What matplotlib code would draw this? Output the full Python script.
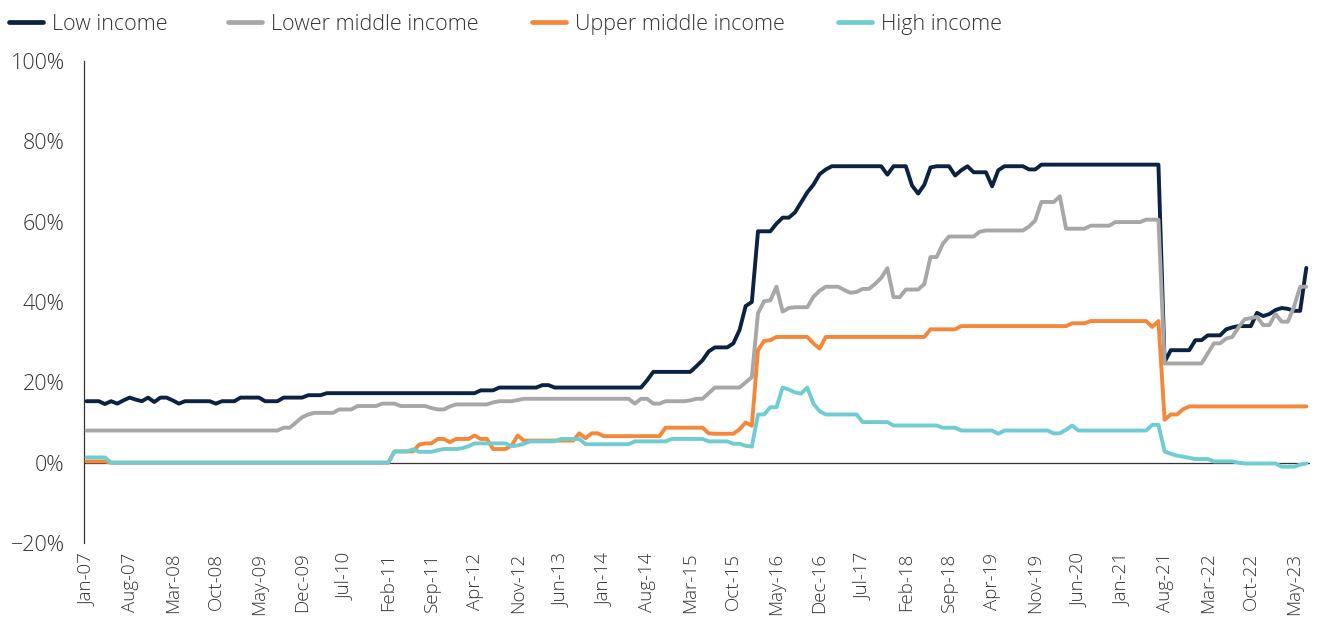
import matplotlib
matplotlib.use("Agg")
import matplotlib.pyplot as plt
from matplotlib.lines import Line2D

# ---------------- data (monthly, Jan-07 .. Jul-23) ----------------
series_names = ["Low income", "Lower middle income", "Upper middle income", "High income"]
series_colors = ["#0b2341", "#a7a7a7", "#f5873a", "#6fcdd2"]

low_income = [
    15.3, 15.3, 15.3, 14.6, 15.3, 14.7, 15.5, 16.2, 15.7, 15.3,
    16.2, 15.1, 16.2, 16.2, 15.5, 14.7, 15.3, 15.3, 15.3, 15.3,
    15.3, 14.7, 15.3, 15.3, 15.3, 16.2, 16.2, 16.2, 16.2, 15.3,
    15.3, 15.3, 16.2, 16.2, 16.2, 16.2, 16.8, 16.8, 16.8, 17.3,
    17.3, 17.3, 17.3, 17.3, 17.3, 17.3, 17.3, 17.3, 17.3, 17.3,
    17.3, 17.3, 17.3, 17.3, 17.3, 17.3, 17.3, 17.3, 17.3, 17.3,
    17.3, 17.3, 17.3, 17.3, 18.0, 18.0, 18.0, 18.7, 18.7, 18.7,
    18.7, 18.7, 18.7, 18.7, 19.3, 19.3, 18.7, 18.7, 18.7, 18.7,
    18.7, 18.7, 18.7, 18.7, 18.7, 18.7, 18.7, 18.7, 18.7, 18.7,
    18.7, 20.5, 22.6, 22.6, 22.6, 22.6, 22.6, 22.6, 22.6, 24.0,
    25.5, 27.7, 28.7, 28.7, 28.7, 29.7, 33.0, 39.0, 40.0, 57.6,
    57.6, 57.6, 59.5, 61.0, 61.0, 62.3, 64.8, 67.3, 69.2, 71.8,
    73.0, 73.8, 73.8, 73.8, 73.8, 73.8, 73.8, 73.8, 73.8, 73.8,
    71.7, 73.8, 73.8, 73.8, 69.0, 67.0, 69.2, 73.5, 73.8, 73.8,
    73.8, 71.5, 72.8, 73.8, 72.3, 72.3, 72.3, 68.8, 72.8, 73.8,
    73.8, 73.8, 73.8, 73.0, 73.0, 74.2, 74.2, 74.2, 74.2, 74.2,
    74.2, 74.2, 74.2, 74.2, 74.2, 74.2, 74.2, 74.2, 74.2, 74.2,
    74.2, 74.2, 74.2, 74.2, 74.2, 25.1, 28.0, 28.0, 28.0, 28.0,
    30.5, 30.5, 31.7, 31.7, 31.7, 33.2, 33.7, 34.0, 34.0, 34.0,
    37.3, 36.5, 37.0, 38.0, 38.5, 38.3, 37.8, 37.8, 48.5,
]

lower_middle_income = [
    8.0, 8.0, 8.0, 8.0, 8.0, 8.0, 8.0, 8.0, 8.0, 8.0,
    8.0, 8.0, 8.0, 8.0, 8.0, 8.0, 8.0, 8.0, 8.0, 8.0,
    8.0, 8.0, 8.0, 8.0, 8.0, 8.0, 8.0, 8.0, 8.0, 8.0,
    8.0, 8.0, 8.7, 8.7, 10.0, 11.3, 12.0, 12.4, 12.4, 12.4,
    12.4, 13.25, 13.25, 13.25, 14.1, 14.1, 14.1, 14.1, 14.7, 14.7,
    14.7, 14.1, 14.1, 14.1, 14.1, 14.1, 13.6, 13.25, 13.25, 14.0,
    14.5, 14.5, 14.5, 14.5, 14.5, 14.5, 15.0, 15.3, 15.3, 15.3,
    15.6, 15.9, 15.9, 15.9, 15.9, 15.9, 15.9, 15.9, 15.9, 15.9,
    15.9, 15.9, 15.9, 15.9, 15.9, 15.9, 15.9, 15.9, 15.9, 14.7,
    15.9, 15.9, 14.7, 14.7, 15.3, 15.3, 15.3, 15.3, 15.5, 15.9,
    15.9, 17.3, 18.7, 18.7, 18.7, 18.7, 18.7, 20.0, 21.3, 37.2,
    40.2, 40.4, 43.8, 37.6, 38.5, 38.7, 38.7, 38.7, 41.3, 42.8,
    43.8, 43.8, 43.8, 43.0, 42.3, 42.5, 43.25, 43.25, 44.5, 46.0,
    48.4, 41.2, 41.2, 43.1, 43.1, 43.1, 44.5, 51.2, 51.2, 54.5,
    56.3, 56.3, 56.3, 56.3, 56.3, 57.5, 57.8, 57.8, 57.8, 57.8,
    57.8, 57.8, 57.8, 58.8, 60.3, 64.9, 64.9, 64.9, 66.3, 58.25,
    58.25, 58.25, 58.25, 59.0, 59.0, 59.0, 59.0, 59.9, 59.9, 59.9,
    59.9, 59.9, 60.5, 60.5, 60.5, 24.7, 24.7, 24.7, 24.7, 24.7,
    24.7, 24.7, 27.2, 29.7, 29.7, 30.9, 31.3, 33.7, 35.7, 36.0,
    36.3, 34.25, 34.25, 37.0, 35.1, 35.1, 38.8, 43.8, 43.8,
]

upper_middle_income = [
    0.3, 0.3, 0.3, 0.3, 0.0, 0.0, 0.0, 0.0, 0.0, 0.0,
    0.0, 0.0, 0.0, 0.0, 0.0, 0.0, 0.0, 0.0, 0.0, 0.0,
    0.0, 0.0, 0.0, 0.0, 0.0, 0.0, 0.0, 0.0, 0.0, 0.0,
    0.0, 0.0, 0.0, 0.0, 0.0, 0.0, 0.0, 0.0, 0.0, 0.0,
    0.0, 0.0, 0.0, 0.0, 0.0, 0.0, 0.0, 0.0, 0.0, 0.0,
    2.8, 2.8, 2.8, 2.8, 4.5, 4.8, 4.8, 5.9, 5.9, 5.1,
    5.9, 5.9, 5.9, 6.75, 5.9, 5.9, 3.4, 3.4, 3.4, 4.25,
    6.75, 5.5, 5.5, 5.5, 5.5, 5.5, 5.5, 5.5, 5.5, 5.5,
    7.3, 6.1, 7.3, 7.3, 6.6, 6.6, 6.6, 6.6, 6.6, 6.6,
    6.6, 6.6, 6.6, 6.6, 8.7, 8.7, 8.7, 8.7, 8.7, 8.7,
    8.7, 7.3, 7.2, 7.2, 7.2, 7.2, 8.3, 10.0, 9.2, 28.0,
    30.3, 30.5, 31.3, 31.3, 31.3, 31.3, 31.3, 31.3, 29.7, 28.4,
    31.3, 31.3, 31.3, 31.3, 31.3, 31.3, 31.3, 31.3, 31.3, 31.3,
    31.3, 31.3, 31.3, 31.3, 31.3, 31.3, 31.3, 33.2, 33.2, 33.2,
    33.2, 33.2, 34.0, 34.0, 34.0, 34.0, 34.0, 34.0, 34.0, 34.0,
    34.0, 34.0, 34.0, 34.0, 34.0, 34.0, 34.0, 34.0, 34.0, 34.0,
    34.7, 34.7, 34.7, 35.25, 35.25, 35.25, 35.25, 35.25, 35.25, 35.25,
    35.25, 35.25, 35.25, 33.8, 35.25, 10.7, 12.0, 12.0, 13.3, 14.0,
    14.0, 14.0, 14.0, 14.0, 14.0, 14.0, 14.0, 14.0, 14.0, 14.0,
    14.0, 14.0, 14.0, 14.0, 14.0, 14.0, 14.0, 14.0, 14.0,
]

high_income = [
    1.3, 1.3, 1.3, 1.3, 0.0, 0.0, 0.0, 0.0, 0.0, 0.0,
    0.0, 0.0, 0.0, 0.0, 0.0, 0.0, 0.0, 0.0, 0.0, 0.0,
    0.0, 0.0, 0.0, 0.0, 0.0, 0.0, 0.0, 0.0, 0.0, 0.0,
    0.0, 0.0, 0.0, 0.0, 0.0, 0.0, 0.0, 0.0, 0.0, 0.0,
    0.0, 0.0, 0.0, 0.0, 0.0, 0.0, 0.0, 0.0, 0.0, 0.0,
    2.8, 2.8, 2.8, 3.3, 2.7, 2.7, 2.7, 3.1, 3.4, 3.4,
    3.4, 3.6, 4.1, 4.8, 4.8, 4.8, 4.8, 4.8, 4.8, 4.1,
    4.3, 4.7, 5.3, 5.3, 5.3, 5.3, 5.3, 5.9, 5.9, 5.9,
    5.9, 4.6, 4.6, 4.6, 4.6, 4.6, 4.6, 4.6, 4.6, 5.3,
    5.3, 5.3, 5.3, 5.3, 5.3, 5.9, 5.9, 5.9, 5.9, 5.9,
    5.9, 5.3, 5.3, 5.3, 5.3, 4.7, 4.7, 4.2, 4.0, 12.0,
    12.0, 13.8, 13.8, 18.7, 18.2, 17.5, 17.2, 18.7, 14.7, 12.8,
    12.0, 12.0, 12.0, 12.0, 12.0, 12.0, 10.1, 10.1, 10.1, 10.1,
    10.1, 9.25, 9.25, 9.25, 9.25, 9.25, 9.25, 9.25, 9.25, 8.7,
    8.7, 8.7, 8.0, 8.0, 8.0, 8.0, 8.0, 8.0, 7.2, 8.0,
    8.0, 8.0, 8.0, 8.0, 8.0, 8.0, 8.0, 7.3, 7.3, 8.2,
    9.25, 8.0, 8.0, 8.0, 8.0, 8.0, 8.0, 8.0, 8.0, 8.0,
    8.0, 8.0, 8.0, 9.4, 9.4, 2.8, 2.2, 1.75, 1.5, 1.2,
    0.9, 0.9, 0.9, 0.3, 0.3, 0.3, 0.3, 0.0, -0.2, -0.2,
    -0.2, -0.2, -0.2, -0.2, -1.0, -1.0, -1.0, -0.5, -0.2,
]

tick_labels = ["Jan-07", "Aug-07", "Mar-08", "Oct-08", "May-09", "Dec-09", "Jul-10",
               "Feb-11", "Sep-11", "Apr-12", "Nov-12", "Jun-13", "Jan-14", "Aug-14",
               "Mar-15", "Oct-15", "May-16", "Dec-16", "Jul-17", "Feb-18", "Sep-18",
               "Apr-19", "Nov-19", "Jun-20", "Jan-21", "Aug-21", "Mar-22", "Oct-22",
               "May-23"]
tick_step = 7
y_ticks = [-20, 0, 20, 40, 60, 80, 100]

# ---------------- plot ----------------
plt.rcParams['font.family'] = ['Open Sans', 'DejaVu Sans']
txt = "#333333"
W, H = 1317, 630

fig = plt.figure(figsize=(W / 100, H / 100), dpi=100)
ax = fig.add_axes([84 / W, 1 - 543 / H, (1310 - 84) / W, (543 - 61) / H])

all_series = [low_income, lower_middle_income, upper_middle_income, high_income]
months = list(range(len(low_income)))
for col, vals in zip(series_colors, all_series):
    ax.plot(months, vals, color=col, lw=2.8, solid_joinstyle='round',
            solid_capstyle='round', zorder=3)

ax.axhline(0, color="#333333", lw=0.9, zorder=2)

ax.set_xlim(-0.4, len(low_income) - 0.4)
ax.set_ylim(-20, 100)
ax.set_yticks(y_ticks)
ax.set_yticklabels([f"{v}%" if v >= 0 else f"\u2212{-v}%" for v in y_ticks],
                   fontsize=15.5, color=txt, fontweight='light')
ax.set_xticks(list(range(0, len(tick_labels) * tick_step, tick_step)))
ax.set_xticklabels(tick_labels, rotation=90, fontsize=13.5, color=txt, fontweight='light')
ax.tick_params(axis='both', length=0)
ax.tick_params(axis='y', pad=14)
ax.tick_params(axis='x', pad=7)

for s in ["top", "right", "bottom"]:
    ax.spines[s].set_visible(False)
ax.spines["left"].set_color("#333333")
ax.spines["left"].set_linewidth(0.9)

# legend drawn manually in figure pixel positions
legend_x = [9, 228, 532, 838]
legend_y = 22
for x0, name, col in zip(legend_x, series_names, series_colors):
    fig.add_artist(Line2D([x0 / W, (x0 + 34) / W], [1 - legend_y / H, 1 - legend_y / H],
                          transform=fig.transFigure, color=col, lw=3.4,
                          solid_capstyle='round'))
    fig.text((x0 + 43) / W, 1 - legend_y / H, name, ha='left', va='center_baseline',
             fontsize=15.5, color=txt, fontweight='light')

fig.savefig("out.png", dpi=100)
